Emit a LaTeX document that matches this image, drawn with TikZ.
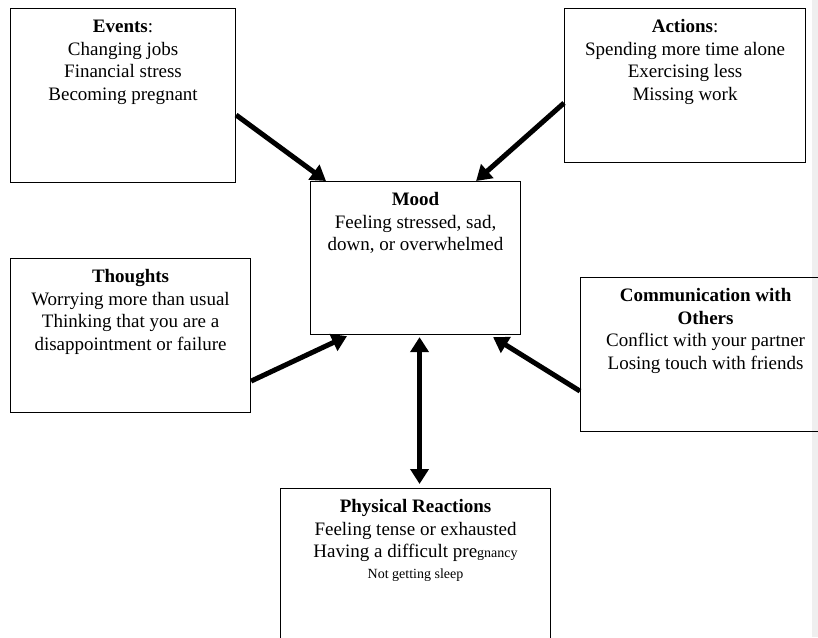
\documentclass[tikz,border=0pt]{standalone}
\usepackage{fontspec}
\setmainfont{Liberation Serif}
\usetikzlibrary{arrows.meta}

\definecolor{stripgray}{HTML}{EFEFEF}

% text of a box: fixed height, lines hung from the top
\newcommand{\boxtext}[3]{\parbox[t][#2][t]{#1}{\centering\rule{0pt}{24pt}#3}}

\begin{document}
\begin{tikzpicture}[
    x=1pt, y=1pt, % one unit = one pixel of the page
    % Box style: thin frame, text hung from the top
    box/.style={draw,anchor=north west,inner sep=0pt,line width=1.1pt,font=\fontsize{19}{22.7}\selectfont},
    % Arrow style: heavy shaft, large triangle tip
    link/.style={line width=5pt,-{Triangle[length=15pt,width=18pt]}}
]

% ==============================
% PAGE AND MARGIN STRIP
% ==============================
\useasboundingbox (0,0) rectangle (818,-637);
\clip (0,0) rectangle (818,-637);
\fill[stripgray] (812,0) rectangle (818,-637);

% ==============================
% BOXES (top-left corner, width, height)
% ==============================
\node[box] (events) at (10,-8)
    {\boxtext{225pt}{174pt}{\textbf{Events}:\\Changing jobs\\Financial stress\\Becoming pregnant}};
\node[box] (actions) at (564,-8)
    {\boxtext{241pt}{154pt}{\textbf{Actions}:\\Spending more time alone\\Exercising less\\Missing work}};
\node[box] (mood) at (310,-181)
    {\boxtext{210pt}{153pt}{\textbf{Mood}\\Feeling stressed, sad,\\down, or overwhelmed}};
\node[box] (thoughts) at (10,-258)
    {\boxtext{240pt}{154pt}{\textbf{Thoughts}\\Worrying more than usual\\Thinking that you are a\\disappointment or failure}};
\node[box] (comm) at (580,-277)
    {\boxtext{250pt}{154pt}{\textbf{Communication with}\\\textbf{Others}\\Conflict with your partner\\Losing touch with friends}};
\node[box] (phys) at (280,-488)
    {\boxtext{270pt}{200pt}{\textbf{Physical Reactions}\\Feeling tense or exhausted\\Having a difficult pre{\fontsize{14}{16}\selectfont gnancy}\\[-2pt]{\fontsize{14}{16}\selectfont Not getting sleep}}};

% ==============================
% ARROWS INTO MOOD
% ==============================
\draw[link] ([yshift=-107pt]events.north east) -- ([xshift=16pt]mood.north west);
\draw[link] ([yshift=-95pt]actions.north west) -- ([xshift=-45pt]mood.north east);
\draw[link] ([yshift=32pt]thoughts.south east) -- ([xshift=37pt,yshift=-1pt]mood.south west);
\draw[link] ([yshift=41pt]comm.south west) -- ([xshift=-28pt,yshift=-2pt]mood.south east);

% two-way arrow to physical reactions
\draw[link,{Triangle[length=15pt,width=18pt]}-{Triangle[length=15pt,width=18pt]},shorten <=2pt,shorten >=4pt]
    ([xshift=4pt]mood.south) -- ([xshift=4pt]phys.north);
\end{tikzpicture}
\end{document}
